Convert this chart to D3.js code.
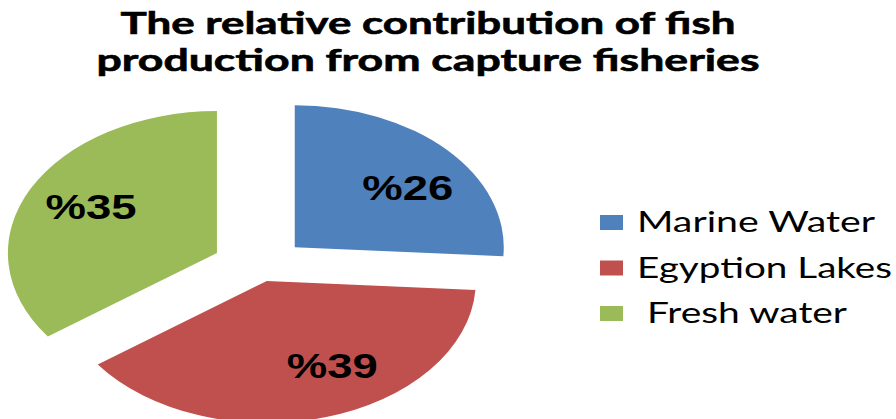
<!DOCTYPE html>
<html>
<head>
<meta charset="utf-8">
<script src="https://cdn.jsdelivr.net/npm/d3@7"></script>
<style>
	body { margin: 0; background: #fff; }
	svg { display: block; }
</style>
</head>
<body>
<svg id="chart" width="896" height="419"></svg>
<script>
'use strict'

// data
const categories = ['Marine Water', 'Egyption Lakes', ' Fresh water']
const shares = [26, 39, 35]
const titleLines = ['The relative contribution of fish', 'production from capture fisheries']

// layout (the original picture is stretched sideways, hence sx)
const cx = 261.5, cy = 268.5
const radius = 142
const sx = 209 / 142
const explode = [31, 13, 34]
const labelRadius = 96
const labelNudge = [[10, 6], [26, -8], [0, -3]]
const colors = ['#4F81BD', '#C0504D', '#9BBB59']

const svg = d3.select('#chart')

// title
svg.append('g').selectAll('text')
	.data(titleLines)
	.join('text')
	.attr('x', 428)
	.attr('y', (d, i) => 34 + i * 37)
	.attr('text-anchor', 'middle')
	.attr('textLength', (d, i) => i === 0 ? 615 : 663)
	.attr('lengthAdjust', 'spacingAndGlyphs')
	.style('font-family', 'Lato, "Open Sans", sans-serif')
	.style('font-weight', 'bold')
	.style('font-size', '30px')
	.style('fill', '#000')
	.style('stroke', '#000')
	.style('stroke-width', 0.6)
	.text(d => d)

// pie
const pie = d3.pie().sort(null).value(d => d)
const arcs = pie(shares)
const arc = d3.arc().innerRadius(0).outerRadius(radius)

const pieG = svg.append('g')
	.attr('transform', 'translate(' + cx + ',' + cy + ') scale(' + sx + ',1)')

pieG.selectAll('path')
	.data(arcs)
	.join('path')
	.attr('transform', (d, i) => {
		let mid = (d.startAngle + d.endAngle) / 2
		return 'translate(' + explode[i] * Math.sin(mid) + ',' + (-explode[i] * Math.cos(mid)) + ')'
	})
	.attr('d', arc)
	.attr('fill', (d, i) => colors[i])

// percent labels, drawn unscaled so the glyphs stay sharp
svg.append('g').selectAll('text')
	.data(arcs)
	.join('text')
	.attr('x', (d, i) => {
		let mid = (d.startAngle + d.endAngle) / 2
		return cx + sx * (explode[i] + labelRadius) * Math.sin(mid) + labelNudge[i][0]
	})
	.attr('y', (d, i) => {
		let mid = (d.startAngle + d.endAngle) / 2
		return cy - (explode[i] + labelRadius) * Math.cos(mid) + labelNudge[i][1]
	})
	.attr('dy', '0.36em')
	.attr('text-anchor', 'middle')
	.attr('textLength', 91)
	.attr('lengthAdjust', 'spacingAndGlyphs')
	.style('font-family', '"Liberation Sans", Arial, sans-serif')
	.style('font-weight', 'bold')
	.style('font-size', '35px')
	.style('fill', '#000')
	.text(d => '%' + d.data)

// legend
const legend = svg.append('g').attr('transform', 'translate(600,215)')
const rows = legend.selectAll('g')
	.data(categories)
	.join('g')
	.attr('transform', (d, i) => 'translate(0,' + i * 45.5 + ')')

rows.append('rect')
	.attr('width', 23)
	.attr('height', 15)
	.attr('fill', (d, i) => colors[i])

rows.append('text')
	.attr('x', 37)
	.attr('y', 17)
	.attr('textLength', (d, i) => [238, 255, 210][i])
	.attr('lengthAdjust', 'spacingAndGlyphs')
	.style('white-space', 'pre')
	.style('font-family', 'Lato, "Open Sans", sans-serif')
	.style('font-size', '28px')
	.style('fill', '#000')
	.text(d => d)
</script>
</body>
</html>
